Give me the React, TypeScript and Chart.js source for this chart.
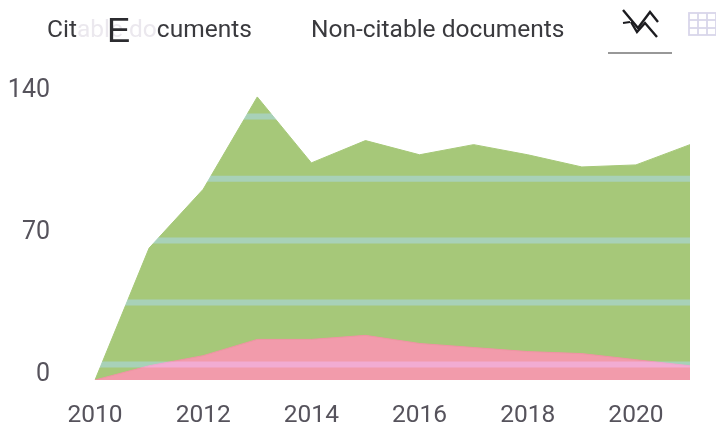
import React, { useEffect, useRef } from "react";
import { Chart, registerables } from "chart.js";

Chart.register(...registerables);

const years = ["2010","2011","2012","2013","2014","2015","2016","2017","2018","2019","2020","2021"];
const citable = [0, 65, 94, 139.5, 107, 118, 111, 116, 111, 105, 106, 116];
const nonCitable = [0, 7, 12, 20, 20, 22, 18, 16, 14, 13, 10, 7];
const tickValues = [0, 70, 140];
const gridValues = [7.7, 38.2, 68.7, 99.2, 129.9];
const labelLift = 2.7;
const axisMax = 144.4;

const font = "Roboto, sans-serif";
const textColor = "#56535c";

const screenGrid = {
  id: "screenGrid",
  beforeDraw(chart: any) {
    const { ctx, width, height } = chart;
    ctx.save();
    ctx.fillStyle = "#fff";
    ctx.fillRect(0, 0, width, height);
    ctx.restore();
  },
  afterDatasetsDraw(chart: any) {
    const { ctx, chartArea, scales } = chart;
    ctx.save();
    ctx.globalCompositeOperation = "screen";
    ctx.strokeStyle = "rgb(5,43,120)";
    ctx.lineWidth = 6;
    for (const v of gridValues) {
      const y = scales.y.getPixelForValue(v);
      ctx.beginPath();
      ctx.moveTo(chartArea.left, y);
      ctx.lineTo(chartArea.right, y);
      ctx.stroke();
    }
    ctx.restore();
  },
};

export default function App() {
  const ref = useRef<HTMLCanvasElement>(null);
  useEffect(() => {
    const chart = new Chart(ref.current!, {
      type: "line",
      data: {
        labels: years,
        datasets: [
          { label: "Non-citable documents", data: nonCitable, fill: "origin", order: 1, backgroundColor: "#f29bab", borderColor: "#f093a4", borderWidth: 1, pointRadius: 0, tension: 0 },
          { label: "Citable documents", data: citable, fill: "origin", order: 2, backgroundColor: "#a6c879", borderColor: "#a6c879", borderWidth: 1, pointRadius: 0, tension: 0 },
        ],
      },
      options: {
        animation: false,
        responsive: false,
        layout: { padding: { top: 87, right: 26, left: 0, bottom: 0 } },
        plugins: { legend: { display: false }, tooltip: { enabled: false } },
        scales: {
          x: {
            offset: false,
            grid: { display: false },
            border: { display: false },
            afterFit(s: any) { s.height = 43; },
            ticks: {
              autoSkip: false,
              maxRotation: 0,
              padding: 13,
              color: textColor,
              font: { family: font, size: 24.5 },
              callback(_v: any, i: number) { return i % 2 === 0 ? years[i] : ""; },
            },
          },
          y: {
            min: 0,
            max: axisMax,
            grid: { display: false },
            border: { display: false },
            afterFit(s: any) { s.width = 95; },
            afterBuildTicks(s: any) { s.ticks = tickValues.map((v) => ({ value: v + labelLift })); },
            ticks: {
              padding: 37,
              color: textColor,
              font: { family: font, size: 25 },
              callback(v: any) { return String(Math.round(Number(v) - labelLift)); },
            },
          },
        },
      },
      plugins: [screenGrid],
    } as any);
    return () => chart.destroy();
  }, []);

  const label: React.CSSProperties = { position: "absolute", top: 15, fontFamily: font, fontSize: 24.5, color: "#3a3a3e", whiteSpace: "nowrap", lineHeight: "28px" };
  return (
    <div style={{ position: "fixed", left: 0, top: 0, width: 716, height: 432, background: "#fff", overflow: "hidden" }}>
      <canvas ref={ref} width={716} height={432} style={{ position: "absolute", left: 0, top: 0, width: 716, height: 432 }} />
      <div style={{ ...label, left: 47 }}>
        Cit<span style={{ color: "#ebe8ee" }}>able do</span>cuments
      </div>
      <div style={{ position: "absolute", left: 107, top: 10, fontFamily: "Liberation Sans, sans-serif", fontSize: 35, lineHeight: "40px", color: "#2c2c30" }}>E</div>
      <div style={{ ...label, left: 311 }}>Non-citable documents</div>
      <svg width={716} height={70} style={{ position: "absolute", left: 0, top: 0 }}>
        <polyline points="623,10 638,28 650,12 658,22" fill="none" stroke="#1c1c20" strokeWidth={2.4} />
        <polyline points="623,23 630,22" fill="none" stroke="#1c1c20" strokeWidth={2.2} />
        <polyline points="631,22 637,32 645,23 657,37" fill="none" stroke="#1c1c20" strokeWidth={2.4} />
        <line x1={608} y1={53} x2={672} y2={53} stroke="#333" strokeWidth={1.2} />
        <g stroke="#d9d6ea" strokeWidth={1.8} fill="none">
          <rect x={689} y={13} width={27} height={22} />
          <line x1={698} y1={13} x2={698} y2={35} />
          <line x1={707} y1={13} x2={707} y2={35} />
          <line x1={689} y1={20} x2={716} y2={20} />
          <line x1={689} y1={28} x2={716} y2={28} />
        </g>
      </svg>
    </div>
  );
}
